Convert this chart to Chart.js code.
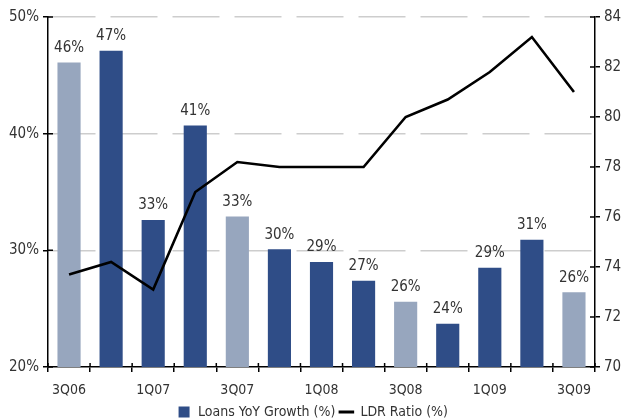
<!DOCTYPE html>
<html>
<head>
<meta charset="utf-8">
<script src="https://cdn.jsdelivr.net/npm/chart.js@4/dist/chart.umd.min.js"></script>
<style>
  html, body { margin: 0; padding: 0; background: #fff; }
  #wrap { width: 625px; height: 419px; }
</style>
</head>
<body>
<div id="wrap"><canvas id="loanChart" width="625" height="419"></canvas></div>
<script>
var quarters = ['3Q06', '4Q06', '1Q07', '2Q07', '3Q07', '4Q07', '1Q08', '2Q08', '3Q08', '4Q08', '1Q09', '2Q09', '3Q09'];
var loanGrowth = [46.1, 47.1, 32.6, 40.7, 32.9, 30.1, 29.0, 27.4, 25.6, 23.7, 28.5, 30.9, 26.4];
var ldrRatio = [73.7, 74.2, 73.1, 77.0, 78.2, 78.0, 78.0, 78.0, 80.0, 80.7, 81.8, 83.2, 81.0];
var growthTicks = [20, 30, 40, 50];
var ratioTicks = [70, 72, 74, 76, 78, 80, 82, 84];

var colors = {
  navy: '#2f4d87',
  pale: '#97a6be',
  grid: '#cdcdcd',
  text: '#333333'
};

var FONT = "'Liberation Sans Narrow', 'DejaVu Sans Condensed', 'Roboto Condensed', sans-serif";
Chart.defaults.font.family = FONT;
Chart.defaults.font.size = 14;
Chart.defaults.color = colors.text;

// third-quarter bars are drawn in the pale shade
var barColors = quarters.map(function(q) {
  return q.indexOf('3Q') === 0 ? colors.pale : colors.navy;
});

// value labels over the bars
var barLabels = {
  id: 'barLabels',
  afterDatasetsDraw: function(chart) {
    var ctx = chart.ctx;
    var meta = chart.getDatasetMeta(0);
    ctx.save();
    ctx.font = '15px ' + FONT;
    ctx.fillStyle = colors.text;
    ctx.textAlign = 'center';
    ctx.textBaseline = 'bottom';
    meta.data.forEach(function(bar, i) {
      ctx.fillText(Math.round(loanGrowth[i]) + '%', bar.x, bar.y - 7);
    });
    ctx.restore();
  }
};

// tick marks cross the axis lines, so draw the inner half too
var innerTicks = {
  id: 'innerTicks',
  afterDatasetsDraw: function(chart) {
    var ctx = chart.ctx;
    var s = chart.scales;
    var area = chart.chartArea;
    ctx.save();
    ctx.strokeStyle = '#000';
    ctx.lineWidth = 1.5;
    ctx.beginPath();
    growthTicks.forEach(function(v) {
      var y = s.y.getPixelForValue(v);
      ctx.moveTo(area.left, y);
      ctx.lineTo(area.left + 5, y);
    });
    ratioTicks.forEach(function(v) {
      var y = s.y2.getPixelForValue(v);
      ctx.moveTo(area.right - 5, y);
      ctx.lineTo(area.right, y);
    });
    var step = (area.right - area.left) / quarters.length;
    for (var i = 0; i <= quarters.length; i++) {
      var x = area.left + i * step;
      ctx.moveTo(x, area.bottom - 4);
      ctx.lineTo(x, area.bottom);
    }
    ctx.stroke();
    ctx.restore();
  }
};

window.onload = function() {
  var ctx = document.getElementById('loanChart').getContext('2d');
  window.loanChart = new Chart(ctx, {
    type: 'bar',
    data: {
      labels: quarters,
      datasets: [{
        type: 'bar',
        label: 'Loans YoY Growth (%)',
        data: loanGrowth,
        backgroundColor: barColors,
        borderWidth: 0,
        barPercentage: 0.55,
        categoryPercentage: 1,
        yAxisID: 'y',
        order: 1
      }, {
        type: 'line',
        label: 'LDR Ratio (%)',
        data: ldrRatio,
        borderColor: '#000',
        backgroundColor: '#000',
        borderWidth: 2.6,
        pointRadius: 0,
        tension: 0,
        yAxisID: 'y2',
        order: 0
      }]
    },
    options: {
      responsive: false,
      animation: false,
      layout: { padding: { top: 17, bottom: -10, left: 0, right: 0 } },
      plugins: {
        tooltip: { enabled: false },
        legend: {
          position: 'bottom',
          labels: {
            usePointStyle: true,
            boxHeight: 11,
            padding: 4,
            font: { size: 14 },
            color: colors.text,
            sort: function(a, b) { return a.datasetIndex - b.datasetIndex; },
            generateLabels: function(chart) {
              var items = Chart.defaults.plugins.legend.labels.generateLabels(chart);
              items.forEach(function(item) {
                if (item.datasetIndex === 0) {
                  item.pointStyle = 'rect';
                  item.fillStyle = colors.navy;
                  item.strokeStyle = colors.navy;
                  item.lineWidth = 0;
                } else {
                  item.pointStyle = 'line';
                  item.strokeStyle = '#000';
                  item.lineWidth = 3;
                }
              });
              return items;
            }
          }
        }
      },
      scales: {
        x: {
          offset: true,
          grid: {
            offset: true,
            drawOnChartArea: false,
            drawTicks: true,
            tickLength: 5,
            tickColor: '#000',
            lineWidth: 1.5
          },
          border: { color: '#000', width: 1.5 },
          ticks: {
            autoSkip: false,
            maxRotation: 0,
            padding: 10,
            callback: function(val, i) {
              return i % 2 === 0 ? quarters[i] : '';
            }
          },
          afterFit: function(scale) { scale.height = 34; }
        },
        y: {
          position: 'left',
          min: 20,
          max: 50,
          ticks: {
            stepSize: 10,
            padding: 4,
            font: { size: 15 },
            callback: function(v) { return v + '%'; }
          },
          grid: {
            color: function(c) { return c.tick && c.tick.value === 20 ? 'rgba(0,0,0,0)' : colors.grid; },
            lineWidth: 1.5,
            drawTicks: true,
            tickLength: 5,
            tickColor: '#000'
          },
          border: { color: '#000', width: 1.5, dash: [47, 15] },
          afterFit: function(scale) { scale.width = 48; }
        },
        y2: {
          position: 'right',
          min: 70,
          max: 84,
          ticks: {
            stepSize: 2,
            padding: 4,
            font: { size: 15 }
          },
          grid: {
            drawOnChartArea: false,
            drawTicks: true,
            tickLength: 5,
            tickColor: '#000',
            lineWidth: 1.5
          },
          border: { color: '#000', width: 1.5 },
          afterFit: function(scale) { scale.width = 30; }
        }
      }
    },
    plugins: [barLabels, innerTicks]
  });
};
</script>
</body>
</html>
